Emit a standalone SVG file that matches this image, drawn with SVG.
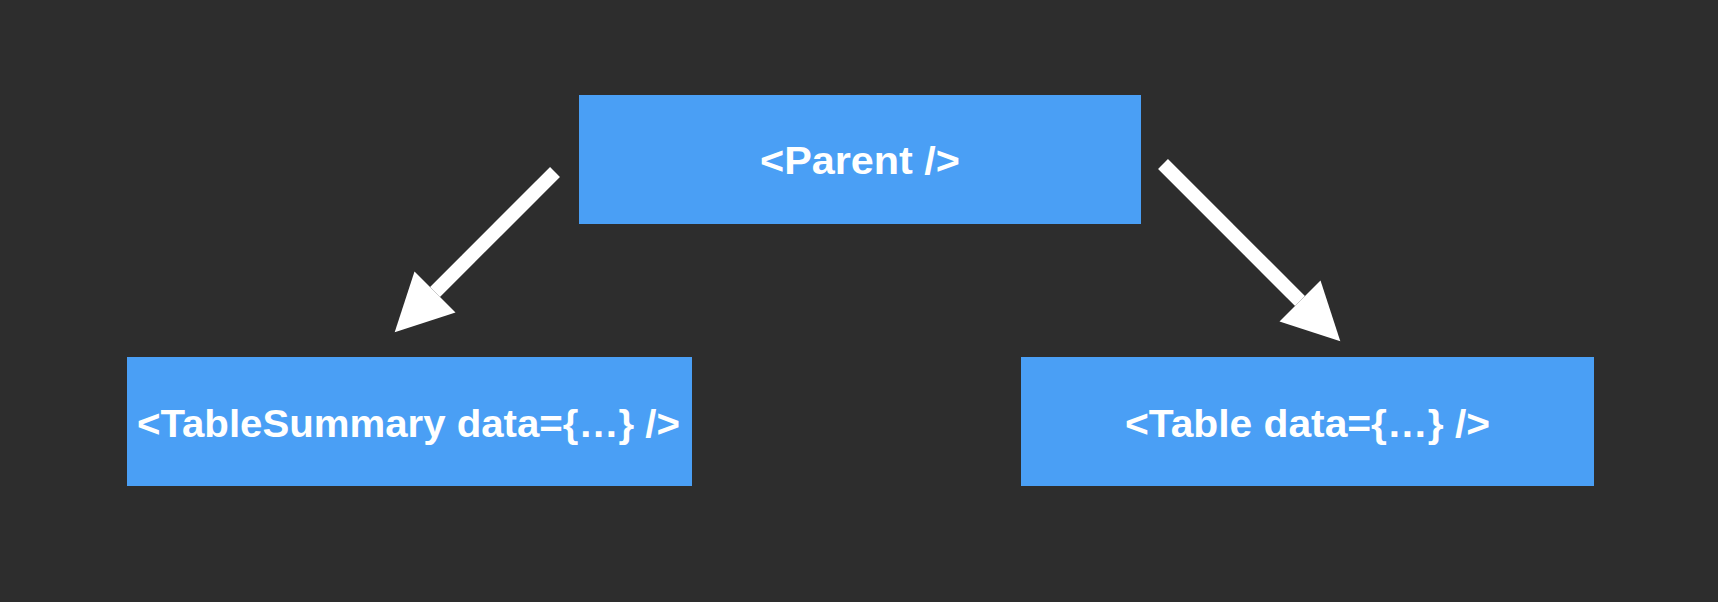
<svg xmlns="http://www.w3.org/2000/svg" width="1718" height="602" viewBox="0 0 1718 602">
<style>
.node{fill:#4a9ff5}
.label{fill:#ffffff;font-family:"Liberation Sans",Arial,Helvetica,sans-serif;font-weight:bold;font-size:38px;text-anchor:middle}
.edge{stroke:#ffffff;stroke-width:14;fill:none}
</style>
<defs>
<marker id="arrow" markerUnits="userSpaceOnUse" markerWidth="58" markerHeight="58" refX="0" refY="29" orient="auto" viewBox="0 0 58 58">
<path d="M0,0 L57,29 L0,58 z" fill="#ffffff"/>
</marker>
</defs>
<rect width="1718" height="602" fill="#2d2d2d"/>
<g id="connectors">
<line class="edge" x1="555" y1="172" x2="435" y2="292" marker-end="url(#arrow)"/>
<line class="edge" x1="1163" y1="164" x2="1300" y2="301" marker-end="url(#arrow)"/>
</g>
<g id="parent">
<rect class="node" x="579" y="95" width="562" height="129"/>
<text class="label" x="860" y="174" textLength="200" lengthAdjust="spacingAndGlyphs">&lt;Parent /&gt;</text>
</g>
<g id="table-summary">
<rect class="node" x="127" y="357" width="565" height="129"/>
<text class="label" x="408.5" y="437" textLength="543" lengthAdjust="spacingAndGlyphs">&lt;TableSummary data={…} /&gt;</text>
</g>
<g id="table">
<rect class="node" x="1021" y="357" width="573" height="129"/>
<text class="label" x="1307.5" y="437" textLength="365" lengthAdjust="spacingAndGlyphs">&lt;Table data={…} /&gt;</text>
</g>
</svg>
